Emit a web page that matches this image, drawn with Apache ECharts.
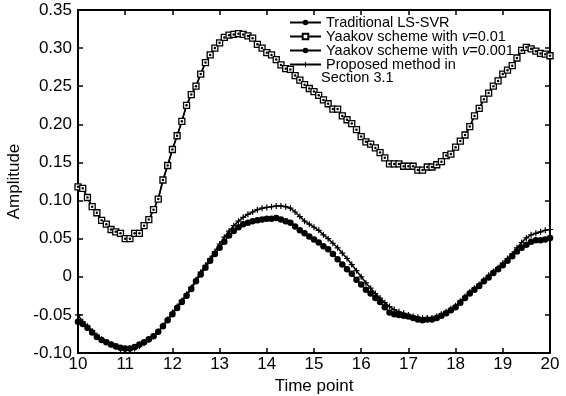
<!DOCTYPE html>
<html>
<head>
<meta charset="utf-8">
<script src="https://cdn.jsdelivr.net/npm/echarts@6/dist/echarts.min.js"></script>
<style>
  html, body {margin: 0; padding: 0; background: #fff;}
  #chart {width: 566px; height: 396px;}
</style>
</head>
<body>
<div id="chart"></div>
<script>
// sample times 10.0 .. 20.0, step 0.1
const timePoints = [];
for (let i = 0; i <= 100; i++) timePoints.push(+(10 + i * 0.1).toFixed(1));

// upper curve: Traditional LS-SVR and Yaakov v=0.01 lie on top of each other
const yaakov01 = [
  0.118, 0.116, 0.104, 0.092, 0.084, 0.074, 0.069, 0.062, 0.059, 0.057,
  0.050, 0.050, 0.057, 0.057, 0.067, 0.075, 0.088, 0.102, 0.127, 0.146,
  0.167, 0.185, 0.204, 0.225, 0.239, 0.250, 0.266, 0.281, 0.291, 0.300,
  0.307, 0.314, 0.317, 0.318, 0.319, 0.318, 0.316, 0.313, 0.305, 0.300,
  0.294, 0.291, 0.285, 0.278, 0.273, 0.272, 0.264, 0.258, 0.252, 0.247,
  0.243, 0.238, 0.232, 0.227, 0.220, 0.220, 0.211, 0.206, 0.201, 0.193,
  0.184, 0.177, 0.174, 0.169, 0.163, 0.156, 0.148, 0.148, 0.148, 0.145,
  0.145, 0.145, 0.140, 0.140, 0.144, 0.144, 0.147, 0.151, 0.159, 0.161,
  0.170, 0.178, 0.186, 0.197, 0.211, 0.221, 0.233, 0.241, 0.250, 0.257,
  0.266, 0.271, 0.277, 0.287, 0.297, 0.301, 0.299, 0.296, 0.293, 0.292,
  0.290
];
const traditional = yaakov01;

const yaakov001 = [
  -0.059, -0.062, -0.067, -0.073, -0.079, -0.083, -0.086, -0.089, -0.091, -0.093,
  -0.094, -0.094, -0.092, -0.089, -0.086, -0.082, -0.078, -0.072, -0.065, -0.057,
  -0.049, -0.041, -0.033, -0.025, -0.016, -0.006, 0.003, 0.012, 0.021, 0.030,
  0.038, 0.046, 0.054, 0.060, 0.065, 0.069, 0.071, 0.073, 0.074, 0.075,
  0.076, 0.076, 0.077, 0.075, 0.073, 0.071, 0.066, 0.061, 0.057, 0.053,
  0.049, 0.045, 0.040, 0.036, 0.030, 0.023, 0.016, 0.010, 0.004, -0.004,
  -0.010, -0.017, -0.022, -0.028, -0.033, -0.040, -0.047, -0.049, -0.050, -0.051,
  -0.052, -0.054, -0.056, -0.057, -0.056, -0.056, -0.054, -0.051, -0.048, -0.044,
  -0.040, -0.034, -0.028, -0.022, -0.017, -0.012, -0.006, -0.001, 0.005, 0.010,
  0.015, 0.021, 0.027, 0.033, 0.038, 0.042, 0.046, 0.048, 0.048, 0.049,
  0.051
];

const proposed = [
  -0.050, -0.059, -0.065, -0.071, -0.077, -0.082, -0.086, -0.089, -0.092, -0.095,
  -0.096, -0.096, -0.094, -0.091, -0.087, -0.083, -0.078, -0.072, -0.064, -0.056,
  -0.047, -0.039, -0.031, -0.023, -0.014, -0.004, 0.006, 0.015, 0.024, 0.033,
  0.043, 0.052, 0.060, 0.067, 0.073, 0.078, 0.082, 0.085, 0.088, 0.090,
  0.091, 0.092, 0.093, 0.093, 0.092, 0.090, 0.085, 0.079, 0.073, 0.069,
  0.065, 0.061, 0.055, 0.050, 0.044, 0.038, 0.031, 0.024, 0.016, 0.008,
  0.000, -0.008, -0.015, -0.022, -0.028, -0.034, -0.039, -0.043, -0.046, -0.048,
  -0.050, -0.052, -0.053, -0.054, -0.054, -0.054, -0.052, -0.049, -0.046, -0.042,
  -0.038, -0.032, -0.026, -0.020, -0.015, -0.010, -0.004, 0.002, 0.007, 0.012,
  0.018, 0.024, 0.030, 0.038, 0.045, 0.051, 0.055, 0.057, 0.059, 0.061,
  0.062
];

const seriesNames = ['Traditional LS-SVR', 'Yaakov scheme with v=0.01', 'Yaakov scheme with v=0.001', 'Proposed method in'];

const font = 'Liberation Sans, Arial, sans-serif';
const pair = arr => arr.map((v, i) => [timePoints[i], v]);
const plus = 'path://M4,0H6V4H10V6H6V10H4V6H0V4H4Z';

const chart = echarts.init(document.getElementById('chart'));

const axisCommon = {
  axisLine: {onZero: false, lineStyle: {color: '#000', width: 2}},
  axisTick: {inside: true, length: 5, lineStyle: {color: '#000', width: 1.5}},
  splitLine: {show: false}
};

chart.setOption({
  animation: false,
  backgroundColor: '#fff',
  grid: {left: 78, right: 16, top: 10, bottom: 43, outerBoundsMode: 'none'},
  xAxis: [
    Object.assign({
      type: 'value', min: 10, max: 20, interval: 1,
      name: 'Time point', nameLocation: 'middle', nameGap: 15,
      nameTextStyle: {fontFamily: font, fontSize: 17, color: '#000'},
      axisLabel: {fontFamily: font, fontSize: 17, color: '#000', margin: 3}
    }, axisCommon),
    Object.assign({
      type: 'value', min: 10, max: 20, interval: 1, position: 'top',
      axisLabel: {show: false}
    }, axisCommon)
  ],
  yAxis: [
    Object.assign({
      type: 'value', min: -0.10, max: 0.35, interval: 0.05,
      name: 'Amplitude', nameLocation: 'middle', nameGap: 50,
      nameTextStyle: {fontFamily: font, fontSize: 17, color: '#000'},
      axisLabel: {
        fontFamily: font, fontSize: 17, color: '#000', margin: 6,
        formatter: v => Math.abs(v) < 1e-9 ? '0' : v.toFixed(2)
      }
    }, axisCommon),
    Object.assign({
      type: 'value', min: -0.10, max: 0.35, interval: 0.05, position: 'right',
      axisLabel: {show: false}
    }, axisCommon)
  ],
  legend: {
    orient: 'vertical',
    left: 284, top: 10,
    itemWidth: 31, itemHeight: 7, itemGap: -1,
    data: seriesNames,
    formatter: name => name.replace(/ v=/, ' {i|v}='),
    textStyle: {
      fontFamily: font, fontSize: 14.5, color: '#000', lineHeight: 13,
      rich: {i: {fontFamily: font, fontSize: 14.5, fontStyle: 'italic', color: '#000', lineHeight: 13}}
    }
  },
  graphic: [{
    type: 'text', left: 321, top: 70,
    style: {text: 'Section 3.1', fontFamily: font, fontSize: 14.5, fill: '#000'}
  }],
  series: [
    {
      name: seriesNames[1], type: 'line', data: pair(yaakov01),
      symbol: 'rect', symbolSize: 6, showAllSymbol: true,
      lineStyle: {color: '#000', width: 1.5},
      itemStyle: {color: '#fff', borderColor: '#000', borderWidth: 1.3}
    },
    {
      name: seriesNames[0], type: 'line', data: pair(traditional),
      symbol: 'circle', symbolSize: 2.5, showAllSymbol: true,
      lineStyle: {color: '#000', width: 1.5},
      itemStyle: {color: '#000'}
    },
    {
      name: seriesNames[3], type: 'line', data: pair(proposed),
      symbol: plus, symbolSize: 6, showAllSymbol: true,
      lineStyle: {color: '#000', width: 1.5},
      itemStyle: {color: '#000'}
    },
    {
      name: seriesNames[2], type: 'line', data: pair(yaakov001),
      symbol: 'circle', symbolSize: 6.5, showAllSymbol: true,
      lineStyle: {color: '#000', width: 1.5},
      itemStyle: {color: '#000'}
    }
  ]
});
</script>
</body>
</html>
